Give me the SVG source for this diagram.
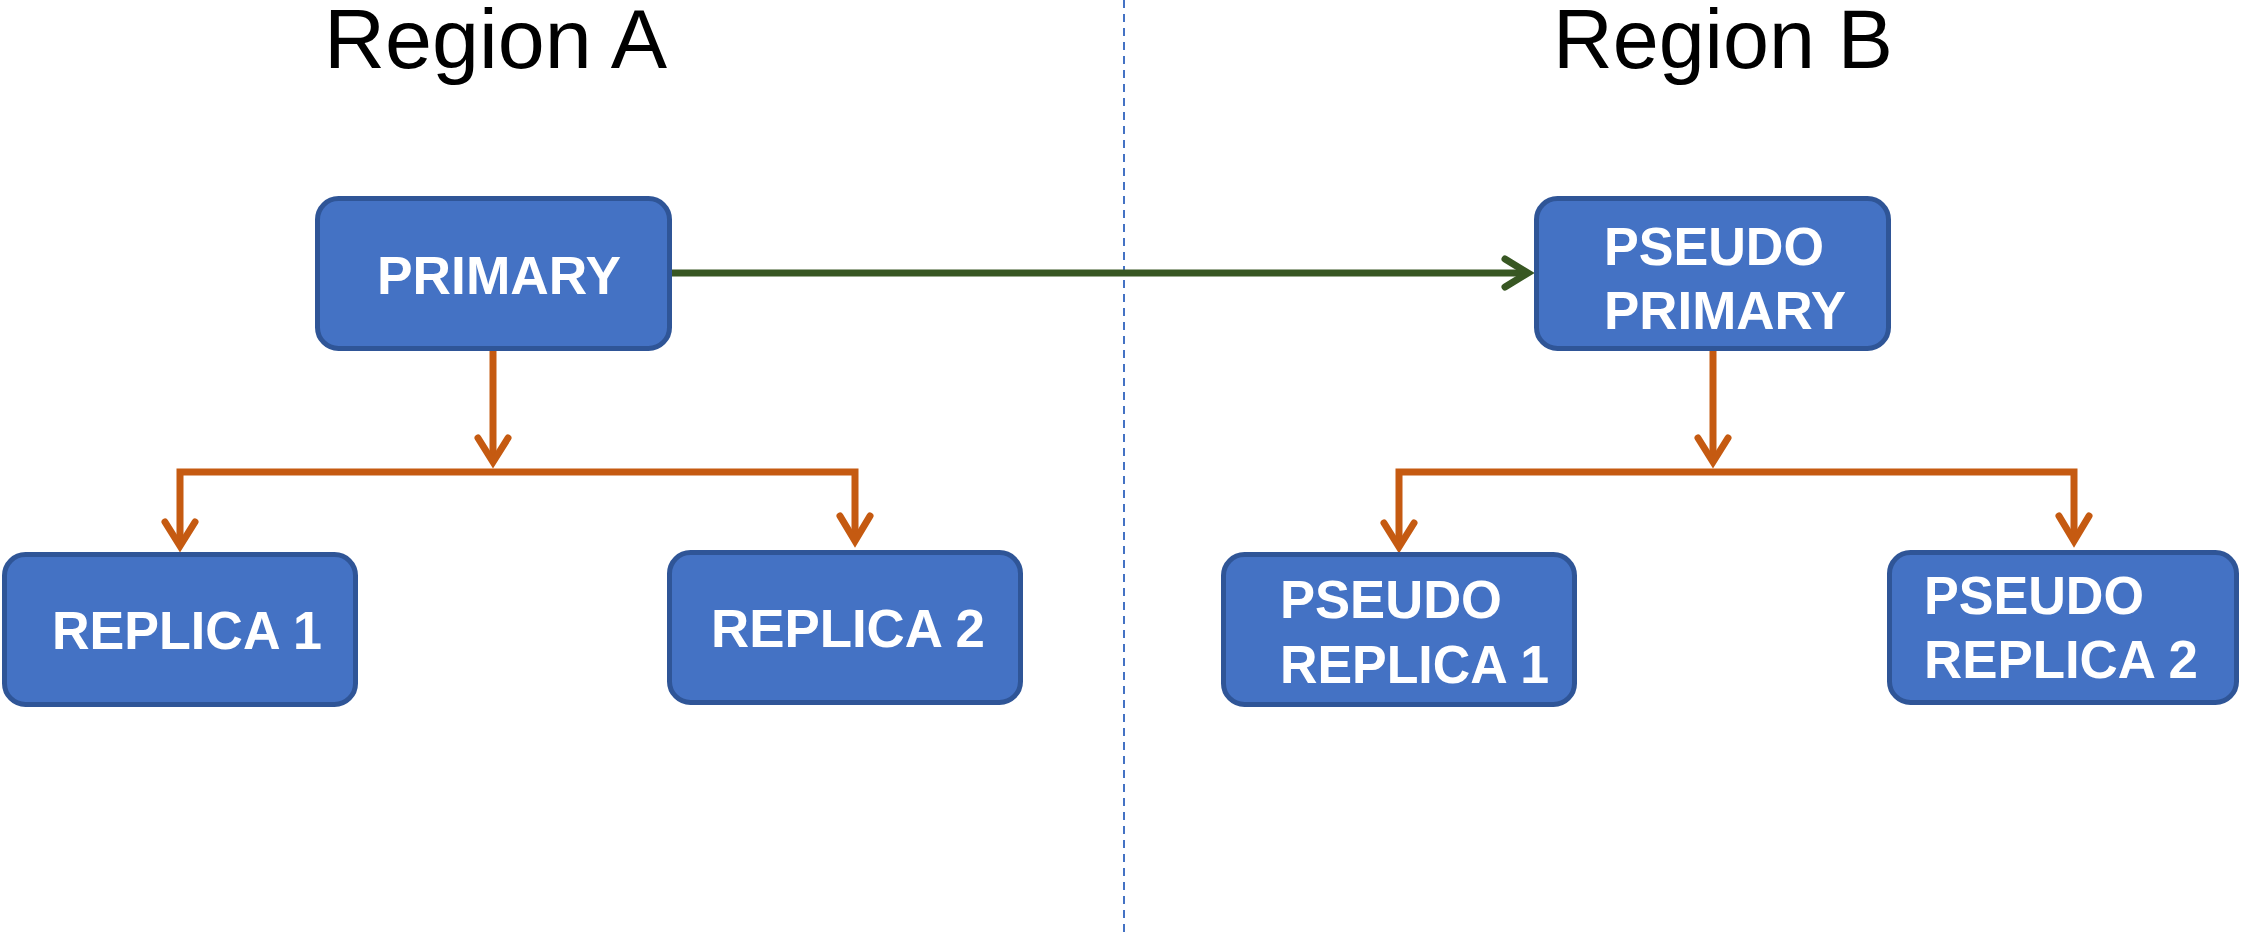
<svg xmlns="http://www.w3.org/2000/svg" width="2241" height="937" viewBox="0 0 2241 937">
<style>
.box{fill:#4472C4;stroke:#2F5597;stroke-width:5}
.lbl{font-family:"Liberation Sans",Arial,sans-serif;font-weight:bold;font-size:54px;fill:#FFFFFF}
.title{font-family:"Liberation Sans",Arial,sans-serif;font-size:84px;fill:#000000}
.or{fill:none;stroke:#C55A11;stroke-width:7}
.orh{fill:none;stroke:#C55A11;stroke-width:7;stroke-linecap:round;stroke-linejoin:miter}
.gr{fill:none;stroke:#385723;stroke-width:7}
.grh{fill:none;stroke:#385723;stroke-width:7;stroke-linecap:round;stroke-linejoin:miter}
</style>
<rect width="2241" height="937" fill="#FFFFFF"/>
<line x1="1124" y1="0" x2="1124" y2="937" stroke="#4472C4" stroke-width="2" stroke-dasharray="8 6"/>
<text class="title" x="324" y="68" textLength="343" lengthAdjust="spacingAndGlyphs">Region A</text>
<text class="title" x="1553" y="68" textLength="340" lengthAdjust="spacingAndGlyphs">Region B</text>
<g id="connectors">
  <path class="gr" d="M672,273 L1528,273"/>
  <path class="grh" d="M1505,259 L1528,273 L1505,287"/>
  <path class="or" d="M493,351 L493,462"/>
  <path class="orh" d="M478,438 L493,462 L508,438"/>
  <path class="or" d="M180,546 L180,472 L855,472 L855,541"/>
  <path class="orh" d="M165,522 L180,546 L195,522"/>
  <path class="orh" d="M840,516 L855,541 L870,516"/>
  <path class="or" d="M1713,351 L1713,462"/>
  <path class="orh" d="M1698,438 L1713,462 L1728,438"/>
  <path class="or" d="M1399,547 L1399,472 L2074,472 L2074,541"/>
  <path class="orh" d="M1384,523 L1399,547 L1414,523"/>
  <path class="orh" d="M2059,516 L2074,541 L2089,516"/>
</g>
<g id="primary">
  <rect class="box" x="317.5" y="198.5" width="352" height="150" rx="21"/>
  <text class="lbl" x="377" y="294" textLength="244" lengthAdjust="spacingAndGlyphs">PRIMARY</text>
</g>
<g id="replica1">
  <rect class="box" x="4.5" y="554.5" width="351" height="150" rx="21"/>
  <text class="lbl" x="52" y="649" textLength="270" lengthAdjust="spacingAndGlyphs">REPLICA 1</text>
</g>
<g id="replica2">
  <rect class="box" x="669.5" y="552.5" width="351" height="150" rx="21"/>
  <text class="lbl" x="711" y="647" textLength="274" lengthAdjust="spacingAndGlyphs">REPLICA 2</text>
</g>
<g id="pseudo-primary">
  <rect class="box" x="1536.5" y="198.5" width="352" height="150" rx="21"/>
  <text class="lbl" x="1604" y="265" textLength="220" lengthAdjust="spacingAndGlyphs">PSEUDO</text>
  <text class="lbl" x="1604" y="329" textLength="242" lengthAdjust="spacingAndGlyphs">PRIMARY</text>
</g>
<g id="pseudo-replica1">
  <rect class="box" x="1223.5" y="554.5" width="351" height="150" rx="21"/>
  <text class="lbl" x="1280" y="618" textLength="222" lengthAdjust="spacingAndGlyphs">PSEUDO</text>
  <text class="lbl" x="1280" y="683" textLength="269" lengthAdjust="spacingAndGlyphs">REPLICA 1</text>
</g>
<g id="pseudo-replica2">
  <rect class="box" x="1889.5" y="552.5" width="347" height="150" rx="21"/>
  <text class="lbl" x="1924" y="614" textLength="220" lengthAdjust="spacingAndGlyphs">PSEUDO</text>
  <text class="lbl" x="1924" y="678" textLength="274" lengthAdjust="spacingAndGlyphs">REPLICA 2</text>
</g>
</svg>
